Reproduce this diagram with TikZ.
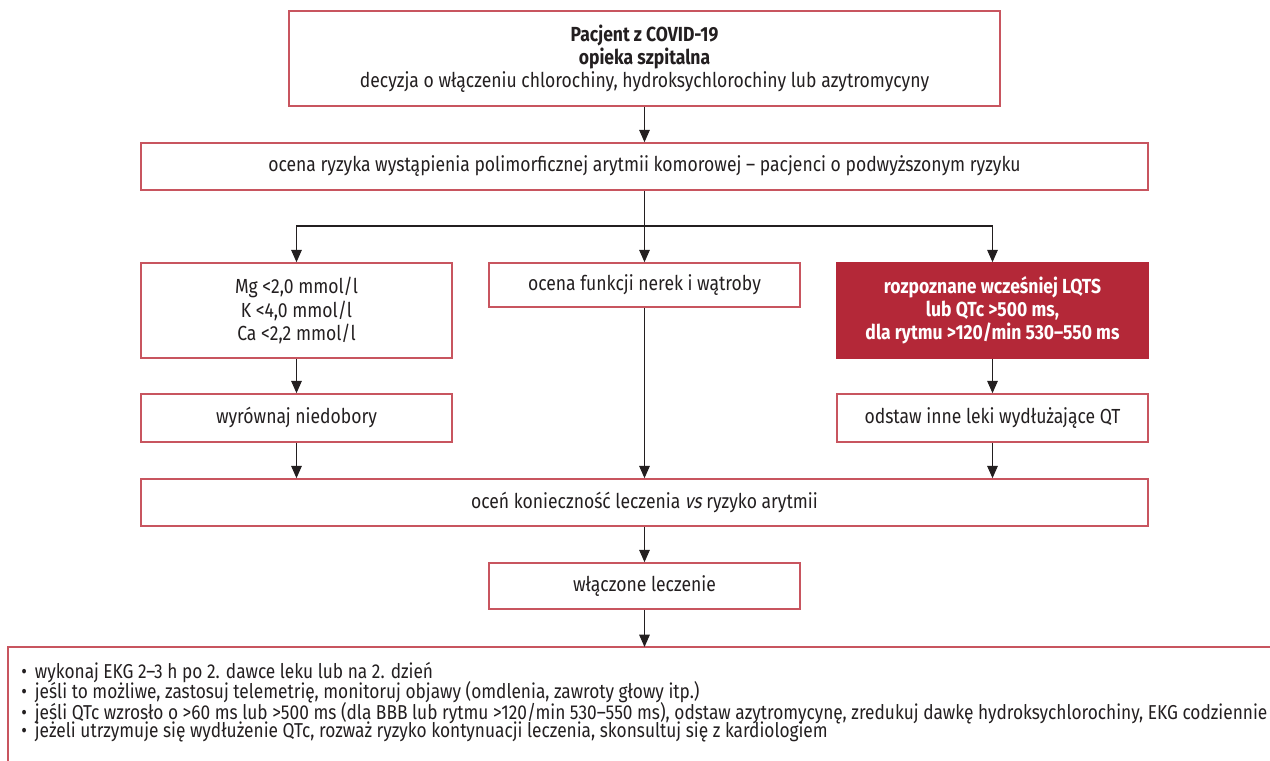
\documentclass[tikz,border=0pt]{standalone}
\usepackage{fontspec}
\setmainfont{Fira Sans}[FakeStretch=0.86]
\newfontfamily\slantfont{Fira Sans}[FakeStretch=0.86, FakeSlant=0.2]
\usetikzlibrary{positioning, arrows.meta, calc}
\definecolor{rimred}{RGB}{200,85,95}
\definecolor{boxred}{RGB}{180,40,56}
\definecolor{ink}{RGB}{35,31,32}

\begin{document}
\begin{tikzpicture}[
    font=\fontsize{11.6}{13.2}\selectfont, text=ink,
    boxw/.style={rectangle, draw=rimred, line width=0.9pt, fill=white, minimum width=6.22cm, minimum height=0.94cm, align=center, inner sep=0pt},
    boxwide/.style={boxw, minimum width=20.14cm},
    boxtall/.style={boxw, minimum height=1.9cm},
    boxhot/.style={boxtall, fill=boxred, draw=boxred, text=white, font=\fontsize{11.6}{13.2}\selectfont\bfseries},
    arr/.style={-{Triangle[width=6pt, length=7pt]}, line width=0.6pt, draw=ink}
]
    \useasboundingbox (0,0) rectangle (25.4,-15.22);

    % top of the flow
    \node[boxw, minimum width=14.22cm, minimum height=1.9cm] (start) at (12.89,-1.17) {{\bfseries Pacjent z COVID-19}\\{\bfseries opieka szpitalna}\\decyzja o włączeniu chlorochiny, hydroksychlorochiny lub azytromycyny};
    \node[boxwide] (ryzyko) at (12.89,-3.33) {ocena ryzyka wystąpienia polimorficznej arytmii komorowej – pacjenci o podwyższonym ryzyku};
    \draw[arr] (start) -- (ryzyko);

    % three branches
    \coordinate (split) at (12.89,-4.52);
    \node[boxtall] (elektrolity) at (5.93,-6.21) {Mg <2,0 mmol/l\\K <4,0 mmol/l\\Ca <2,2 mmol/l};
    \node[boxw, minimum height=0.88cm] (nerki) at (12.89,-5.70) {ocena funkcji nerek i wątroby};
    \node[boxhot] (lqts) at (19.85,-6.21) {rozpoznane wcześniej LQTS\\lub QTc >500 ms,\\dla rytmu >120/min 530–550 ms};
    \draw[line width=0.6pt, draw=ink] (ryzyko) -- (split);
    \draw[arr] (split) -| (elektrolity);
    \draw[arr] (split) -- (nerki);
    \draw[arr] (split) -| (lqts);

    \node[boxw, minimum height=0.96cm] (wyrownaj) at (5.93,-8.36) {wyrównaj niedobory};
    \node[boxw, minimum height=0.96cm] (odstaw) at (19.85,-8.36) {odstaw inne leki wydłużające QT};
    \draw[arr] (elektrolity) -- (wyrownaj);
    \draw[arr] (lqts) -- (odstaw);

    % merge
    \node[boxwide] (ocen) at (12.89,-10.05) {oceń konieczność leczenia {\slantfont vs} ryzyko arytmii};
    \draw[arr] (wyrownaj) -- (wyrownaj |- ocen.north);
    \draw[arr] (nerki) -- (ocen);
    \draw[arr] (odstaw) -- (odstaw |- ocen.north);

    \node[boxw, minimum height=0.92cm] (leczenie) at (12.89,-11.72) {włączone leczenie};
    \draw[arr] (ocen) -- (leczenie);

    % monitoring box, runs off the page
    \draw[rimred, line width=0.9pt] (0.16,-16) |- (26,-12.94);
    \coordinate (monitor) at (12.89,-12.94);
    \draw[arr] (leczenie) -- (monitor);
    \node[anchor=north west, align=left, inner sep=0pt, font=\fontsize{11.45}{11.9}\selectfont] (zalecenia) at (0.42,-13.24) {%
        • \,wykonaj EKG 2–3 h po 2. dawce leku lub na 2. dzień\\[-1.5pt]
        • \,jeśli to możliwe, zastosuj telemetrię, monitoruj objawy (omdlenia, zawroty głowy itp.)\\[-1.5pt]
        • \,jeśli QTc wzrosło o >60 ms lub >500 ms (dla BBB lub rytmu >120/min 530–550 ms), odstaw azytromycynę, zredukuj dawkę hydroksychlorochiny, EKG codziennie\\[-1.5pt]
        • \,jeżeli utrzymuje się wydłużenie QTc, rozważ ryzyko kontynuacji leczenia, skonsultuj się z kardiologiem};
\end{tikzpicture}
\end{document}
